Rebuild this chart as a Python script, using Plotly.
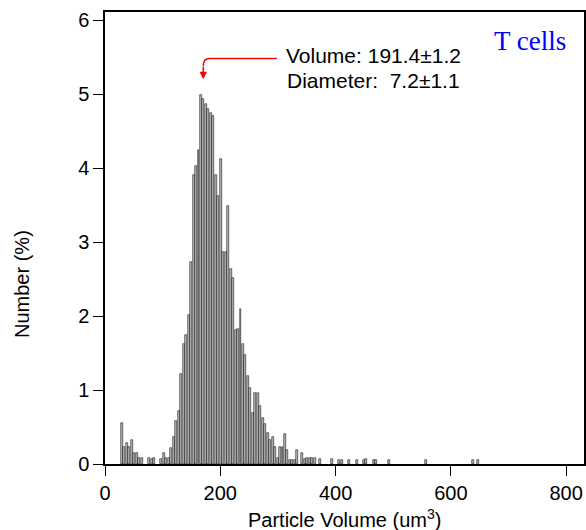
import plotly.graph_objects as go

# Bin centres (um^3) and number percentages
volume_um3 = [29.4, 33.7, 38.0, 42.2, 46.5, 50.8, 55.1, 59.4, 63.7,
              76.5, 80.8, 85.1,
              97.9, 102.2, 106.5, 110.8, 115.1, 119.4, 123.7, 127.9, 132.2, 136.5,
              140.8, 145.1, 149.4, 153.6, 157.9, 162.2, 166.5, 170.8, 175.1, 179.4,
              183.6, 187.9, 192.2, 196.5, 200.8, 205.1, 209.4, 213.6, 217.9, 222.2,
              226.5, 230.8, 235.1, 239.3, 243.6, 247.9, 252.2, 256.5, 260.8, 265.1,
              269.3, 273.6, 277.9, 282.2, 286.5, 290.8, 295.1, 299.3, 303.6, 307.9,
              312.2, 316.5, 320.8, 325.0, 329.3, 333.6, 342.2, 346.5, 350.8, 355.0,
              359.3, 363.6, 372.2, 393.6, 406.5, 410.7, 423.6, 436.5, 449.3, 453.6,
              466.5, 470.7, 492.2, 556.4, 637.9, 646.4]
number_pct = [0.55, 0.23, 0.28, 0.23, 0.33, 0.15, 0.15, 0.08, 0.08,
              0.08, 0.07, 0.08,
              0.07, 0.15, 0.08, 0.08, 0.22, 0.36, 0.58, 0.71, 1.21, 1.62,
              1.75, 2.01, 2.73, 3.90, 4.03, 4.25, 4.99, 4.93, 4.86, 4.80,
              4.75, 4.70, 3.91, 3.62, 4.12, 2.86, 2.87, 3.49, 2.64, 2.51,
              1.81, 1.83, 2.09, 1.62, 1.47, 1.19, 1.03, 0.69, 0.96, 0.96,
              0.78, 0.62, 0.54, 0.42, 0.33, 0.36, 0.23, 0.08, 0.23, 0.23,
              0.41, 0.19, 0.06, 0.06, 0.06, 0.19, 0.15, 0.07, 0.08, 0.08,
              0.08, 0.08, 0.07, 0.07, 0.06, 0.06, 0.06, 0.06, 0.06, 0.07,
              0.06, 0.06, 0.06, 0.06, 0.06, 0.06]

x_ticks = [0, 200, 400, 600, 800]
y_ticks = [0, 1, 2, 3, 4, 5, 6]

FONT = "Liberation Sans, Arial, sans-serif"

fig = go.Figure()
fig.add_trace(go.Bar(
    x=volume_um3, y=number_pct, width=3.4,
    marker=dict(color="#bdbdbd", line=dict(color="black", width=0.55)),
    showlegend=False, hoverinfo="skip"))

fig.update_layout(
    width=586, height=530,
    margin=dict(l=105, r=2, t=12, b=66, autoexpand=False),
    paper_bgcolor="white", plot_bgcolor="white",
    font=dict(family=FONT, size=20, color="black"),
    bargap=0,
)
fig.update_xaxes(range=[0, 831], tickvals=x_ticks, ticks="outside", ticklen=10,
                 tickwidth=1, tickcolor="black", showline=True, linecolor="black",
                 linewidth=1.5, mirror=True, showgrid=False, zeroline=False,
                 tickfont=dict(size=20))
fig.update_yaxes(range=[0, 6.11], tickvals=y_ticks, ticks="outside", ticklen=10,
                 tickwidth=1, tickcolor="black", showline=True, linecolor="black",
                 linewidth=1.5, mirror=True, showgrid=False, zeroline=False,
                 tickfont=dict(size=20))

# Axis titles
fig.add_annotation(text="Particle Volume (um<sup>3</sup>)", xref="paper", yref="paper",
                   x=0.5, y=0, xanchor="center", yanchor="top", yshift=-40,
                   showarrow=False, font=dict(size=20))
fig.add_annotation(text="Number (%)", xref="paper", yref="paper", textangle=-90,
                   x=0, y=0, xanchor="center", yanchor="middle", xshift=-83, yshift=180,
                   showarrow=False, font=dict(size=20))

# Statistics text
stat_x = (286.7 - 105.5) / 479.5
fig.add_annotation(text="Volume: 191.4\u00b11.2",
                   xref="paper", yref="paper", x=stat_x, y=1, xshift=-2,
                   xanchor="left", yanchor="top", yshift=-30, align="left",
                   showarrow=False, font=dict(size=21))
fig.add_annotation(text="Diameter:\u00a0 7.2\u00b11.1",
                   xref="paper", yref="paper", x=stat_x, y=1, xshift=-1,
                   xanchor="left", yanchor="top", yshift=-55, align="left",
                   showarrow=False, font=dict(size=21))
fig.add_annotation(text="T cells", xref="paper", yref="paper", x=1, y=1,
                   xanchor="right", yanchor="top", xshift=-16, yshift=-12,
                   showarrow=False,
                   font=dict(family="Liberation Serif, Times New Roman, serif", size=27,
                             color="#0000ff"))

# Red pointer
fig.add_shape(type="path", xref="x", yref="y",
              path="M 298,5.48 L 181,5.48 Q 170.5,5.48 170.5,5.38",
              line=dict(color="red", width=1.5))
fig.add_annotation(x=170.5, y=5.2, ax=170.5, ay=5.39, xref="x", yref="y",
                   axref="x", ayref="y", text="", showarrow=True,
                   arrowhead=2, arrowsize=1, arrowwidth=1.5, arrowcolor="red")

fig.write_html("out.html", config={"displayModeBar": False},
               post_script="document.body.style.margin='0';")
